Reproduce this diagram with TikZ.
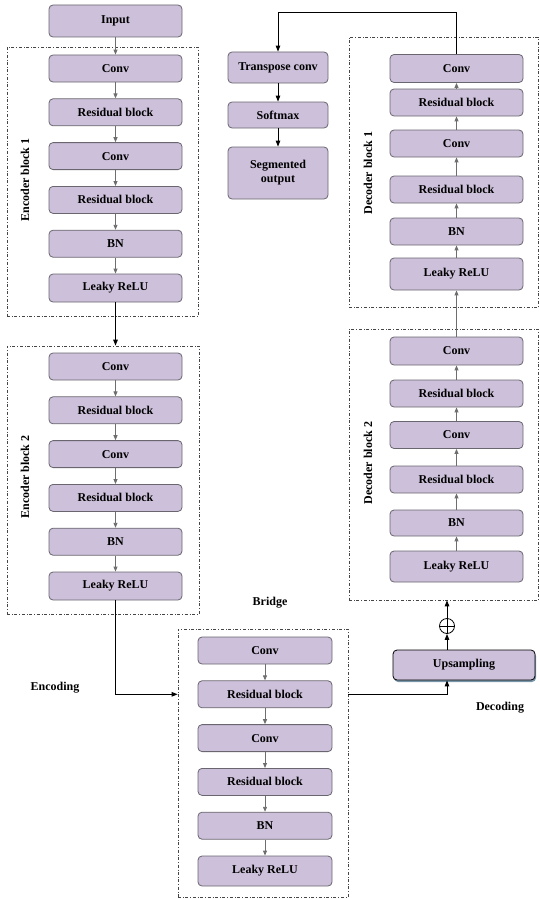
\documentclass[tikz,border=0pt]{standalone}
\usepackage{fontspec}
\setmainfont{Liberation Serif}
\usetikzlibrary{positioning,arrows.meta,shadows}

\definecolor{boxfill}{RGB}{205,192,218}
\definecolor{boxline}{RGB}{105,102,112}
\definecolor{grpline}{RGB}{70,70,70}
\definecolor{flowgray}{RGB}{110,110,110}
\definecolor{shadowblue}{RGB}{120,150,170}

\newcommand{\lblfont}{\fontsize{12}{14}\selectfont\bfseries}

\tikzset{
  layer/.style={draw=boxline, fill=boxfill, rounded corners=4pt, line width=0.8pt,
    minimum width=133pt, minimum height=27pt, inner sep=1pt, font=\lblfont},
  grp/.style={draw=grpline, dash dot, line width=0.7pt, inner sep=0pt},
  flow/.style={draw=flowgray, line width=0.9pt, -{Triangle[length=5pt,width=4pt]}},
  link/.style={draw=black, line width=1pt, -{Triangle[length=6pt,width=4.5pt]}},
  tag/.style={font=\lblfont, inner sep=0pt}
}

\begin{document}
\begin{tikzpicture}[x=1pt, y=-1pt, node distance=16pt]
    \useasboundingbox (0,0) rectangle (539,899);
    % group frames
    \node[grp, minimum width=191pt, minimum height=269pt] (enc1) at (102.5,181.5) {};
    \node[grp, minimum width=192pt, minimum height=268pt] (enc2) at (103,480) {};
    \node[grp, minimum width=170pt, minimum height=268pt] (bridge) at (263,763) {};
    \node[grp, minimum width=189pt, minimum height=270pt] (dec1) at (443.5,172) {};
    \node[grp, minimum width=189pt, minimum height=271pt] (dec2) at (443.5,464.5) {};
    % encoder block 1
    \node[layer, minimum height=32pt] (input) at (115.5,21) {Input};
    \node[layer] (e1conv1) at (115.5,68.5) {Conv};
    \node[layer, below=of e1conv1] (e1res1) {Residual block};
    \node[layer, below=of e1res1] (e1conv2) {Conv};
    \node[layer, below=of e1conv2] (e1res2) {Residual block};
    \node[layer, below=of e1res2] (e1bn) {BN};
    \node[layer, below=of e1bn, minimum height=28pt] (e1relu) {Leaky ReLU};
    % encoder block 2
    \node[layer] (e2conv1) at (115.5,366.5) {Conv};
    \node[layer, below=of e2conv1] (e2res1) {Residual block};
    \node[layer, below=of e2res1] (e2conv2) {Conv};
    \node[layer, below=of e2conv2] (e2res2) {Residual block};
    \node[layer, below=of e2res2] (e2bn) {BN};
    \node[layer, below=of e2bn, minimum height=28pt] (e2relu) {Leaky ReLU};
    % bridge
    \node[layer, minimum width=134pt] (b1conv1) at (265,650.5) {Conv};
    \node[layer, minimum width=134pt, below=of b1conv1] (b1res1) {Residual block};
    \node[layer, minimum width=134pt, below=of b1res1] (b1conv2) {Conv};
    \node[layer, minimum width=134pt, below=of b1conv2] (b1res2) {Residual block};
    \node[layer, minimum width=134pt, below=of b1res2] (b1bn) {BN};
    \node[layer, minimum width=134pt, below=of b1bn, minimum height=30pt] (b1relu) {Leaky ReLU};
    % decoder block 1
    \node[layer, minimum height=28pt] (d1conv1) at (456.5,68.5) {Conv};
    \node[layer] (d1res1) at (456.5,102.5) {Residual block};
    \node[layer] (d1conv2) at (456.5,143.5) {Conv};
    \node[layer] (d1res2) at (456.5,189.5) {Residual block};
    \node[layer] (d1bn) at (456.5,231.5) {BN};
    \node[layer, minimum height=32pt] (d1relu) at (456.5,274) {Leaky ReLU};
    % decoder block 2
    \node[layer, minimum height=28pt] (d2conv1) at (456.5,351) {Conv};
    \node[layer] (d2res1) at (456.5,393.5) {Residual block};
    \node[layer] (d2conv2) at (456.5,435) {Conv};
    \node[layer] (d2res2) at (456.5,479.5) {Residual block};
    \node[layer, minimum height=26pt] (d2bn) at (456.5,523) {BN};
    \node[layer, minimum height=31pt] (d2relu) at (456.5,566.5) {Leaky ReLU};
    % output head
    \node[layer, minimum width=100pt, minimum height=31pt] (tconv) at (278,67.5) {Transpose conv};
    \node[layer, minimum width=100pt, minimum height=26pt] (softmax) at (278,115) {Softmax};
    \node[layer, minimum width=100pt, minimum height=52pt, align=center] (segout) at (278,173) {Segmented\\output};
    % upsampling and sum
    \node[layer, draw=black, minimum width=142pt, minimum height=30pt,
      drop shadow={shadow xshift=1pt, shadow yshift=-2pt, fill=shadowblue, opacity=1}] (up) at (464,665) {Upsampling};
    \node[circle, draw=black, line width=0.8pt, minimum size=15pt, inner sep=0pt] (sum) at (447,626) {};
    \draw[line width=0.8pt] (sum.north) -- (sum.south) (sum.west) -- (sum.east);
    % labels
    \node[tag, rotate=90] (enc1lbl) at (25,180) {Encoder block 1};
    \node[tag, rotate=90] (enc2lbl) at (25,477) {Encoder block 2};
    \node[tag, rotate=90] (dec1lbl) at (368,173) {Decoder block 1};
    \node[tag, rotate=90] (dec2lbl) at (368,463) {Decoder block 2};
    \node[tag] (bridgelbl) at (270,603) {Bridge};
    \node[tag] (enclbl) at (55,688) {Encoding};
    \node[tag] (declbl) at (500,708) {Decoding};
    % inner arrows
    \foreach \a/\b in {input/e1conv1, e1conv1/e1res1, e1res1/e1conv2, e1conv2/e1res2, e1res2/e1bn, e1bn/e1relu,
        e2conv1/e2res1, e2res1/e2conv2, e2conv2/e2res2, e2res2/e2bn, e2bn/e2relu,
        b1conv1/b1res1, b1res1/b1conv2, b1conv2/b1res2, b1res2/b1bn, b1bn/b1relu,
        d1res1/d1conv1, d1conv2/d1res1, d1res2/d1conv2, d1bn/d1res2, d1relu/d1bn,
        d2res1/d2conv1, d2conv2/d2res1, d2res2/d2conv2, d2bn/d2res2, d2relu/d2bn, d2conv1/d1relu}
        \draw[flow] (\a) -- (\b);
    % main connectors
    \draw[link] (e1relu) -- (enc2.north -| e1relu);
    \draw[link] (e2relu.south) |- (bridge.west |- b1res1);
    \draw[link] (bridge.east |- b1res1) -| (sum |- up.south);
    \draw[link] (up.north -| sum) -- (sum.south);
    \draw[link] (sum.north) -- (dec2.south -| sum);
    \draw[link] (d1conv1.north) -- ++(0,-42) -| (tconv.north);
    \draw[link] (tconv) -- (softmax);
    \draw[link] (softmax) -- (segout);
\end{tikzpicture}
\end{document}
